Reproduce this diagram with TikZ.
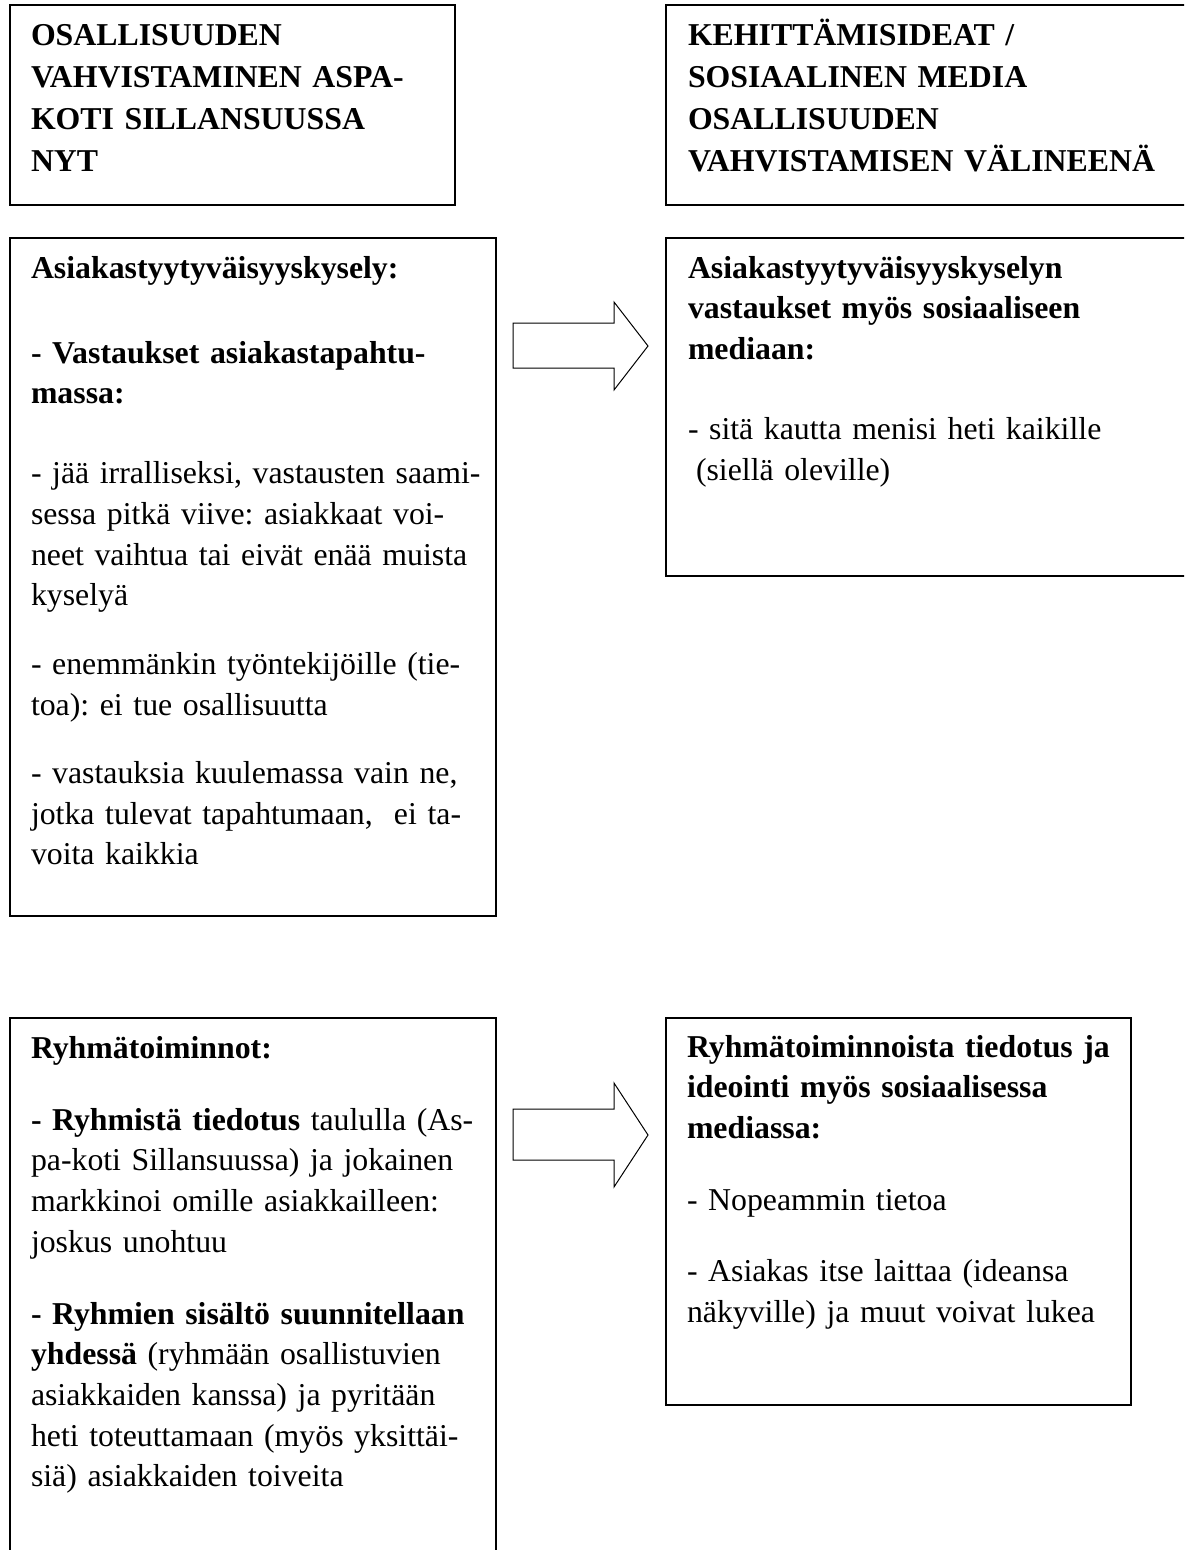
\documentclass[tikz,border=0pt]{standalone}
\usepackage{fontspec}
\setmainfont{Liberation Serif}
\frenchspacing
\tikzset{
  box/.style={draw, line width=1.6pt, inner sep=0pt, outer sep=0pt, anchor=north west},
  bodytxt/.style={anchor=base west, inner sep=0pt, outer sep=0pt, text width=#1, align=left,
    font=\fontsize{31.8pt}{40.7pt}\selectfont},
  titletxt/.style={anchor=base west, inner sep=0pt, outer sep=0pt, text width=#1, align=left,
    font=\fontsize{31.8pt}{42pt}\selectfont\bfseries},
  blockarrow/.style={draw, line width=1pt, line join=miter, fill=white}
}
\begin{document}
\begin{tikzpicture}[x=1pt, y=-1pt]
\clip (0,0) rectangle (1184,1550);
\fill[white] (0,0) rectangle (1184,1550);

% boxes
\node[box, minimum width=445pt, minimum height=200pt] (b1) at (10,5) {};
\node[box, minimum width=534pt, minimum height=200pt] (b2) at (666,5) {};
\node[box, minimum width=486pt, minimum height=678pt] (b3) at (10,238) {};
\node[box, minimum width=534pt, minimum height=338pt] (b4) at (666,238) {};
\node[box, minimum width=486pt, minimum height=562pt] (b5) at (10,1018) {};
\node[box, minimum width=465pt, minimum height=387pt] (b6) at (666,1018) {};

% titles
\node[titletxt=440pt] (t1) at (31,45) {OSALLISUUDEN\\VAHVISTAMINEN ASPA-\\KOTI SILLANSUUSSA\\NYT};
\node[titletxt=495pt] (t2) at (688,45) {KEHITTÄMISIDEAT /\\SOSIAALINEN MEDIA\\OSALLISUUDEN\\VAHVISTAMISEN VÄLINEENÄ};

% body texts
\node[bodytxt=462pt] (t3) at (31,278) {\textbf{Asiakastyytyväisyyskysely:}\\[44.3pt]
\textbf{- Vastaukset asiakastapahtu-}\\
\textbf{massa:}\\[39.3pt]
- jää irralliseksi, vastausten saami-\\
sessa pitkä viive: asiakkaat voi-\\
neet vaihtua tai eivät enää muista\\
kyselyä\\[28.3pt]
- enemmänkin työntekijöille (tie-\\
toa): ei tue osallisuutta\\[27.3pt]
- vastauksia kuulemassa vain ne,\\
jotka tulevat tapahtumaan,\ \ ei ta-\\
voita kaikkia};

\node[bodytxt=490pt] (t4) at (688,278) {\textbf{Asiakastyytyväisyyskyselyn}\\
\textbf{vastaukset myös sosiaaliseen}\\
\textbf{mediaan:}\\[39.3pt]
- sitä kautta menisi heti kaikille\\
\hspace*{8pt}(siellä oleville)};

\node[bodytxt=462pt] (t5) at (31,1058) {\textbf{Ryhmätoiminnot:}\\[31.3pt]
\textbf{- Ryhmistä tiedotus} taululla (As-\\
pa-koti Sillansuussa) ja jokainen\\
markkinoi omille asiakkailleen:\\
joskus unohtuu\\[31.3pt]
\textbf{- Ryhmien sisältö suunnitellaan}\\
\textbf{yhdessä} (ryhmään osallistuvien\\
asiakkaiden kanssa) ja pyritään\\
heti toteuttamaan (myös yksittäi-\\
siä) asiakkaiden toiveita};

\node[bodytxt=440pt] (t6) at (687,1057) {\textbf{Ryhmätoiminnoista tiedotus ja}\\
\textbf{ideointi myös sosiaalisessa}\\
\textbf{mediassa:}\\[31.3pt]
- Nopeammin tietoa\\[30.3pt]
- Asiakas itse laittaa (ideansa\\
näkyville) ja muut voivat lukea};

% block arrows
\draw[blockarrow] (513,323) -- (614,323) -- (614,302) -- (648,346) -- (614,390) -- (614,368) -- (513,368) -- cycle;
\draw[blockarrow] (513,1109) -- (614,1109) -- (614,1083) -- (648,1135) -- (614,1187) -- (614,1160) -- (513,1160) -- cycle;
\end{tikzpicture}
\end{document}
